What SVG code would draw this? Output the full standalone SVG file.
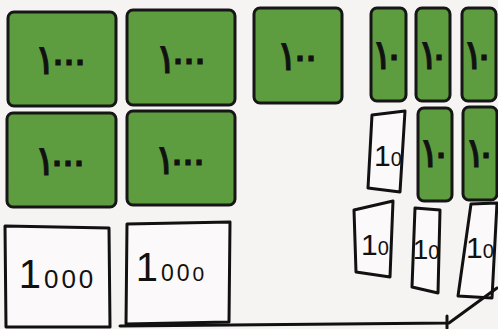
<svg xmlns="http://www.w3.org/2000/svg" width="498" height="329" viewBox="0 0 498 329">
<style>
.g{fill:#5e9c40;stroke:#161616;stroke-width:3}
.w{fill:#fbf9f9;stroke:#111;stroke-width:3;stroke-linejoin:round}
.ta{font-family:"DejaVu Sans",sans-serif;fill:#111;text-anchor:middle;font-size:42px;stroke:#111;stroke-width:0.8}
.th{font-family:"Liberation Sans",sans-serif;fill:#111;text-anchor:middle}
.c{fill:none;stroke:#111;stroke-width:3;stroke-linecap:round}
</style>
<rect width="498" height="329" fill="#f6f3f3"/>
<g id="g1000a"><rect class="g" x="8" y="12" width="108" height="94" rx="6"/><text class="ta" x="45 58 69 80" y="74">١٠٠٠</text></g>
<g id="g1000b"><rect class="g" x="127" y="10" width="108" height="95" rx="6"/><text class="ta" x="166 178 189 200" y="73">١٠٠٠</text></g>
<g id="g100"><rect class="g" x="254" y="8" width="88" height="95" rx="6"/><text class="ta" x="287 300 311" y="70">١٠٠</text></g>
<g id="g10a"><rect class="g" x="371" y="8" width="35" height="93" rx="6"/><text class="ta" x="382 394" y="69">١٠</text></g>
<g id="g10b"><rect class="g" x="416" y="8" width="34" height="93" rx="6"/><text class="ta" x="428 439" y="69">١٠</text></g>
<g id="g10c"><rect class="g" x="462" y="8" width="34" height="93" rx="6"/><text class="ta" x="473 484" y="69">١٠</text></g>
<g id="g1000c"><rect class="g" x="7" y="113" width="109" height="94" rx="6"/><text class="ta" x="45 57 68 79" y="175">١٠٠٠</text></g>
<g id="g1000d"><rect class="g" x="127" y="111" width="108" height="94" rx="6"/><text class="ta" x="165 177 188 199" y="174">١٠٠٠</text></g>
<g id="g10d"><rect class="g" x="418" y="108" width="34" height="93" rx="6"/><text class="ta" x="429 441" y="167">١٠</text></g>
<g id="g10e"><rect class="g" x="463" y="107" width="34" height="93" rx="6"/><text class="ta" x="475 486" y="167">١٠</text></g>
<g id="w10a"><polygon class="w" points="372,115 405,111 400,192 368,188"/><text class="th" x="388" y="166" font-size="30">1<tspan font-size="20">0</tspan></text></g>
<g id="w1000a"><polygon class="w" points="5,226 109,228 110,327 6,327"/><text class="th" x="56" y="288" font-size="40">1<tspan font-size="26" dx="3">0</tspan><tspan font-size="26" dx="3">0</tspan><tspan font-size="26" dx="3">0</tspan></text></g>
<g id="w1000b"><polygon class="w" points="127,224 230,222 229,322 126,324"/><text class="th" x="170" y="281" font-size="40">1<tspan font-size="23" dx="3">0</tspan><tspan font-size="23" dx="3">0</tspan><tspan font-size="21" dx="3">0</tspan></text></g>
<g id="w10b"><polygon class="w" points="354,210 393,201 390,277 356,272"/><text class="th" x="375" y="255" font-size="30">1<tspan font-size="20">0</tspan></text></g>
<g id="w10c"><polygon class="w" points="415,208 440,210 438,293 412,287"/><text class="th" x="426" y="259" font-size="28">1<tspan font-size="20">0</tspan></text></g>
<g id="w10d"><polygon class="w" points="471,204 497,203 492,298 458,296"/><text class="th" x="480" y="258" font-size="30">1<tspan font-size="20">0</tspan></text></g>
<g id="connectors">
<path class="c" d="M497,288 L449,323 L120,326"/>
<path class="c" d="M447,316 L447,328"/>
</g>
</svg>
